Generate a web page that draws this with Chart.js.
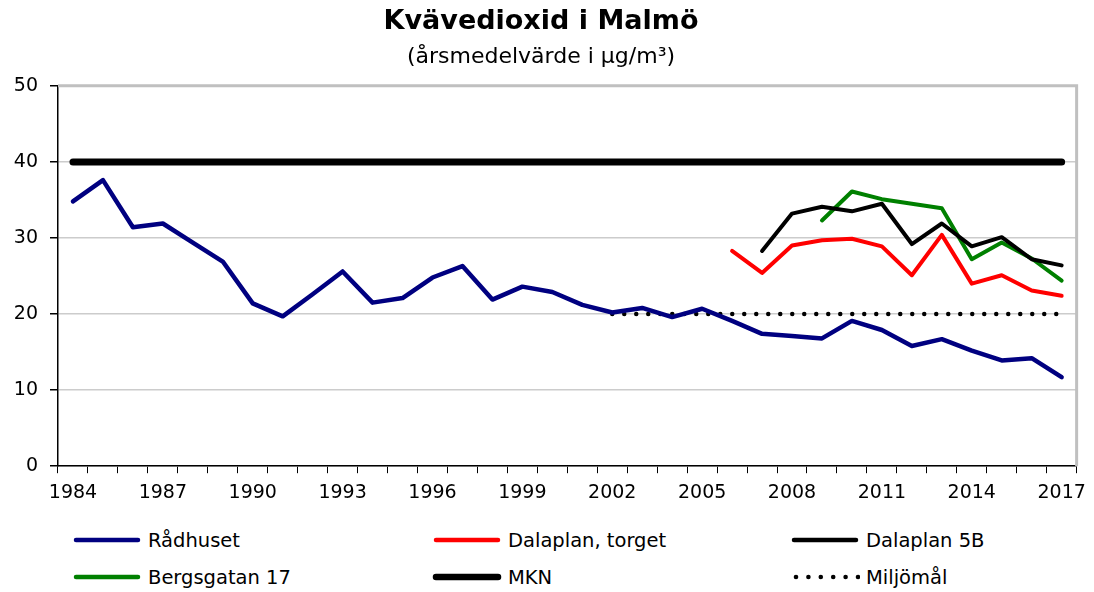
<!DOCTYPE html>
<html>
<head>
<meta charset="utf-8">
<script src="https://cdn.jsdelivr.net/npm/chart.js@4/dist/chart.umd.min.js"></script>
<style>
body{margin:0;background:#fff;font-family:"DejaVu Sans",Verdana,sans-serif;}
#wrap{position:relative;width:1094px;height:592px;}
#box{position:absolute;left:0;top:0;width:1094px;height:512px;}
#legend{position:absolute;left:72px;top:529px;width:1080px;display:grid;grid-template-columns:360px 358px 300px;row-gap:15px;font-size:19.5px;color:#000;}
.item{display:flex;align-items:center;height:22px;white-space:nowrap;}
.item svg{margin-right:6px;}
</style>
</head>
<body>
<div id="wrap">
<div id="box"><canvas id="c"></canvas></div>
<div id="legend"></div>
</div>
<script>
const years=[1984,1985,1986,1987,1988,1989,1990,1991,1992,1993,1994,1995,1996,1997,1998,1999,2000,2001,2002,2003,2004,2005,2006,2007,2008,2009,2010,2011,2012,2013,2014,2015,2016,2017];

const radhuset=[34.8,37.6,31.4,31.9,29.4,26.9,21.4,19.7,22.6,25.6,21.5,22.1,24.8,26.3,21.9,23.6,22.9,21.2,20.2,20.8,19.6,20.7,19.1,17.4,17.1,16.8,19.1,17.9,15.8,16.7,15.2,13.9,14.2,11.7];
const dalaplanTorget=[null,null,null,null,null,null,null,null,null,null,null,null,null,null,null,null,null,null,null,null,null,null,28.3,25.4,29.0,29.7,29.9,28.9,25.1,30.4,24.0,25.1,23.1,22.4];
const dalaplan5B=[null,null,null,null,null,null,null,null,null,null,null,null,null,null,null,null,null,null,null,null,null,null,null,28.3,33.2,34.1,33.5,34.5,29.2,31.9,28.9,30.1,27.2,26.4];
const bergsgatan=[null,null,null,null,null,null,null,null,null,null,null,null,null,null,null,null,null,null,null,null,null,null,null,null,null,32.3,36.1,35.1,34.5,33.9,27.2,29.4,27.3,24.4];
const mkn=[40,40,40,40,40,40,40,40,40,40,40,40,40,40,40,40,40,40,40,40,40,40,40,40,40,40,40,40,40,40,40,40,40,40];
const miljomal=[null,null,null,null,null,null,null,null,null,null,null,null,null,null,null,null,null,null,20,20,20,20,20,20,20,20,20,20,20,20,20,20,20,20];

const FONT='"DejaVu Sans", Verdana, sans-serif';

function line(label,data,color,width,dash){
return {label:label,data:data,borderColor:color,backgroundColor:color,borderWidth:width,
pointRadius:0,pointHoverRadius:0,tension:0,spanGaps:false,
borderCapStyle:'round',borderJoinStyle:'round',borderDash:dash||[]};
}

const frame={
id:'frame',
afterDraw(chart){
const a=chart.chartArea,ctx=chart.ctx;
ctx.save();
ctx.strokeStyle='#c0c0c0';
ctx.lineWidth=3;
ctx.beginPath();
ctx.moveTo(a.left,a.top);
ctx.lineTo(a.right,a.top);
ctx.lineTo(a.right,a.bottom);
ctx.stroke();
ctx.restore();
}
};

const chart=new Chart(document.getElementById('c'),{
type:'line',
data:{
labels:years,
datasets:[
line('Rådhuset',radhuset,'#000080',4.5),
line('Dalaplan, torget',dalaplanTorget,'#ff0000',4),
line('Dalaplan 5B',dalaplan5B,'#000000',4),
line('Bergsgatan 17',bergsgatan,'#008000',4),
line('MKN',mkn,'#000000',7),
line('Miljömål',miljomal,'#000000',4.5,[0,12])
]
},
plugins:[frame],
options:{
responsive:true,
maintainAspectRatio:false,
animation:false,
layout:{padding:{left:0,right:12,top:0,bottom:0}},
plugins:{
legend:{display:false},
tooltip:{enabled:false},
title:{display:true,text:'Kvävedioxid i Malmö',color:'#000',
font:{family:FONT,size:27,weight:'bold'},padding:{top:6,bottom:3}},
subtitle:{display:true,text:'(årsmedelvärde i µg/m³)',color:'#000',
font:{family:FONT,size:22},padding:{top:3,bottom:15}}
},
scales:{
x:{
type:'category',
offset:true,
grid:{display:true,drawOnChartArea:false,drawTicks:true,tickLength:7,tickColor:'#000',offset:true},
border:{color:'#000',width:1.5},
ticks:{autoSkip:false,maxRotation:0,minRotation:0,padding:8,color:'#000',
font:{family:FONT,size:19},
callback:(v,i)=>i%3===0?years[i]:''}
},
y:{
min:0,max:50,
grid:{color:'#cccccc',lineWidth:1.5,tickLength:8,tickColor:'#000'},
border:{color:'#000',width:1.5},
ticks:{stepSize:10,padding:12,color:'#000',font:{family:FONT,size:19}},
afterFit:s=>{s.width=58;}
}
}
}
});

// legend laid out like the original: 3 columns, 2 rows
const lg=document.getElementById('legend');
chart.data.datasets.forEach(d=>{
const it=document.createElement('div');
it.className='item';
let mark;
if(d.borderDash.length){
mark='';
for(let k=0;k<6;k++) mark+='<circle cx="'+(6+k*12.4)+'" cy="6" r="2.3" fill="'+d.borderColor+'"/>';
}else{
const w=d.borderWidth>5?6.5:4.5;
mark='<line x1="4" y1="6" x2="66" y2="6" stroke="'+d.borderColor+'" stroke-width="'+w+'" stroke-linecap="round"/>';
}
it.innerHTML='<svg width="70" height="12">'+mark+'</svg><span>'+d.label+'</span>';
lg.appendChild(it);
});
</script>
</body>
</html>
